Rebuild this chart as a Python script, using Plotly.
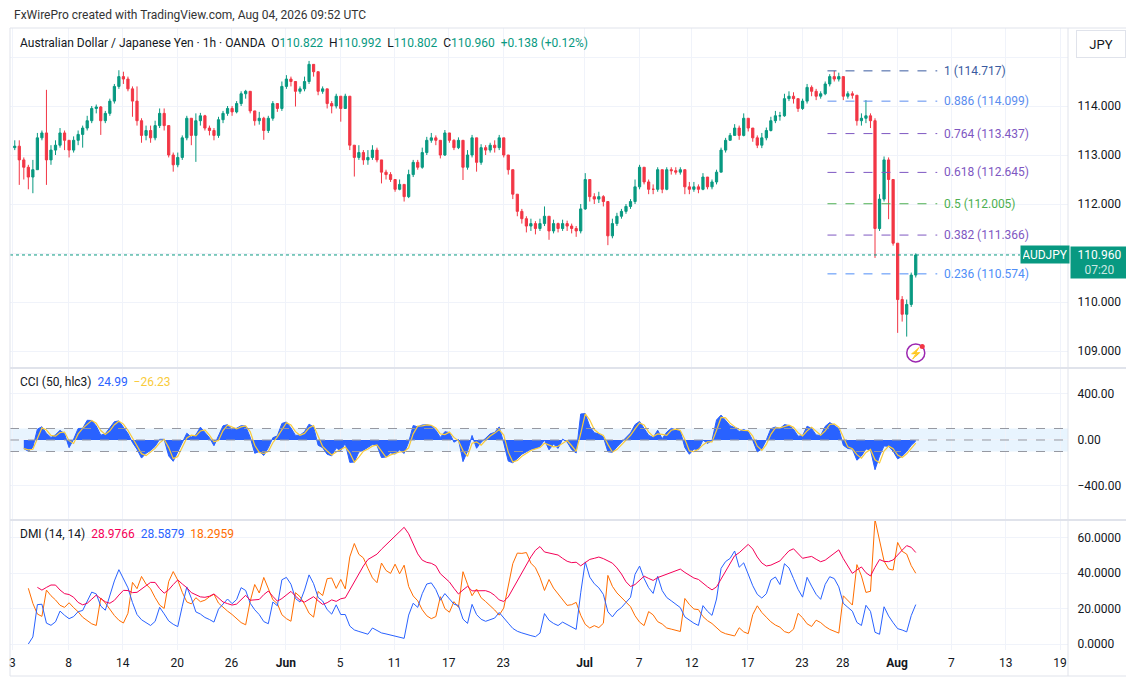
import numpy as np
import pandas as pd
import plotly.graph_objects as go
from plotly.subplots import make_subplots

# AUDJPY 1h chart, read off by eye and kept as 8h bars
# (forex session opens Sun 21:00 UTC, first bar Sun 3 May 21:00)
START = "2026-05-03 21:00"
BAR_HOURS = 8
first_open = 113.15

close = [
    113.18, 112.90, 112.75, 112.55, 112.70, 113.35, 113.45, 112.90, 113.10, 113.20,
    113.45, 113.30, 113.10, 113.30, 113.42, 113.55, 113.70, 113.95, 113.98, 113.70,
    113.85, 114.10, 114.40, 114.60, 114.55, 114.35, 114.10, 113.70, 113.40, 113.50,
    113.35, 113.60, 113.85, 113.60, 113.00, 112.80, 112.95, 113.35, 113.75, 113.40,
    113.70, 113.80, 113.55, 113.50, 113.40, 113.72, 113.85, 113.95, 113.88, 114.05,
    114.25, 114.30, 113.90, 113.70, 113.75, 113.50, 113.75, 114.05, 113.95, 114.40,
    114.55, 114.50, 114.30, 114.35, 114.50, 114.85, 114.70, 114.30, 114.35, 114.05,
    114.00, 114.20, 113.95, 114.20, 113.20, 112.95, 113.05, 112.90, 112.95, 113.10,
    112.90, 112.65, 112.60, 112.50, 112.30, 112.40, 112.15, 112.60, 112.85, 112.75,
    113.05, 113.30, 113.35, 113.30, 113.00, 113.45, 113.30, 113.15, 113.30, 112.75,
    113.00, 113.35, 112.85, 113.15, 113.10, 113.20, 113.15, 113.35, 113.00, 112.70,
    112.20, 111.85, 111.70, 111.55, 111.60, 111.50, 111.60, 111.75, 111.45, 111.60,
    111.50, 111.60, 111.55, 111.50, 111.45, 111.90, 112.50, 112.15, 112.10, 112.15,
    112.05, 111.35, 111.60, 111.75, 111.85, 111.95, 112.05, 112.35, 112.75, 112.45,
    112.30, 112.30, 112.70, 112.30, 112.70, 112.68, 112.65, 112.70, 112.35, 112.30,
    112.35, 112.30, 112.55, 112.35, 112.45, 112.65, 113.10, 113.30, 113.40, 113.55,
    113.40, 113.75, 113.55, 113.35, 113.20, 113.35, 113.50, 113.70, 113.80, 113.80,
    114.15, 114.20, 114.15, 113.95, 114.10, 114.38, 114.30, 114.20, 114.25, 114.45,
    114.60, 114.55, 114.60, 114.20, 114.25, 114.22, 113.70, 113.75, 113.80, 113.70,
    111.50, 112.10, 112.90, 112.50, 111.20, 110.05, 109.75, 109.95, 110.55, 110.96,
]
high = [
    113.30, 113.30, 112.95, 112.80, 112.90, 113.45, 113.50, 114.33, 113.20, 113.30,
    113.55, 113.50, 113.30, 113.38, 113.50, 113.60, 113.80, 114.00, 114.03, 114.00,
    113.90, 114.15, 114.45, 114.73, 114.70, 114.60, 114.40, 114.40, 113.75, 113.60,
    113.60, 113.70, 113.95, 113.95, 113.60, 113.05, 113.05, 113.40, 113.80, 113.75,
    113.85, 113.86, 113.82, 113.60, 113.55, 113.78, 113.90, 114.00, 114.00, 114.10,
    114.30, 114.33, 114.30, 113.90, 113.88, 113.78, 113.80, 114.10, 114.05, 114.50,
    114.63, 114.60, 114.50, 114.40, 114.60, 114.92, 114.85, 114.70, 114.40, 114.35,
    114.10, 114.25, 114.20, 114.25, 114.20, 113.20, 113.20, 113.10, 113.10, 113.20,
    113.15, 112.90, 112.70, 112.65, 112.50, 112.50, 112.40, 112.70, 112.90, 112.90,
    113.15, 113.37, 113.45, 113.40, 113.30, 113.51, 113.45, 113.32, 113.36, 113.30,
    113.10, 113.41, 113.35, 113.22, 113.20, 113.25, 113.30, 113.41, 113.35, 113.00,
    112.70, 112.20, 111.90, 111.75, 111.70, 111.65, 111.70, 111.95, 111.75, 111.68,
    111.62, 111.68, 111.66, 111.60, 111.55, 112.00, 112.63, 112.50, 112.22, 112.25,
    112.18, 112.05, 111.70, 111.82, 111.90, 112.00, 112.10, 112.50, 112.80, 112.75,
    112.50, 112.40, 112.75, 112.70, 112.75, 112.75, 112.75, 112.75, 112.70, 112.45,
    112.45, 112.40, 112.63, 112.55, 112.50, 112.70, 113.15, 113.35, 113.45, 113.63,
    113.60, 113.85, 113.75, 113.55, 113.40, 113.45, 113.56, 113.78, 113.90, 113.88,
    114.25, 114.30, 114.28, 114.15, 114.15, 114.45, 114.42, 114.35, 114.30, 114.50,
    114.65, 114.717, 114.68, 114.60, 114.30, 114.30, 114.22, 113.85, 114.12, 113.85,
    113.75, 112.20, 112.97, 112.95, 112.12, 111.20, 110.12, 110.05, 110.60, 110.992,
]
low = [
    113.10, 112.39, 112.50, 112.30, 112.22, 112.70, 113.30, 112.39, 112.80, 113.00,
    113.15, 113.10, 112.95, 113.05, 113.20, 113.15, 113.50, 113.65, 113.85, 113.41,
    113.65, 113.80, 114.05, 114.35, 114.45, 114.30, 113.78, 113.60, 113.25, 113.30,
    113.25, 113.30, 113.55, 113.50, 112.95, 112.66, 112.75, 112.90, 113.30, 113.20,
    112.86, 113.60, 113.50, 113.40, 113.30, 113.35, 113.65, 113.80, 113.80, 113.85,
    114.00, 114.15, 113.85, 113.60, 113.62, 113.31, 113.45, 113.70, 113.88, 113.90,
    114.35, 114.40, 113.99, 114.25, 114.30, 114.45, 114.60, 114.22, 114.25, 113.95,
    113.85, 113.95, 113.68, 113.95, 113.10, 112.56, 112.90, 112.80, 112.80, 112.90,
    112.85, 112.42, 112.50, 112.45, 112.25, 112.28, 112.05, 112.12, 112.55, 112.70,
    112.72, 113.00, 113.25, 113.20, 112.93, 112.98, 113.25, 113.10, 113.12, 112.49,
    112.70, 112.95, 112.66, 112.80, 113.00, 113.05, 113.05, 113.10, 112.95, 112.60,
    112.10, 111.75, 111.60, 111.42, 111.45, 111.38, 111.45, 111.55, 111.27, 111.40,
    111.42, 111.45, 111.45, 111.40, 111.33, 111.40, 111.88, 112.05, 112.00, 112.02,
    111.95, 111.16, 111.30, 111.55, 111.70, 111.80, 111.90, 112.00, 112.30, 112.40,
    112.20, 112.20, 112.25, 112.22, 112.28, 112.60, 112.60, 112.60, 112.20, 112.20,
    112.25, 112.22, 112.28, 112.30, 112.30, 112.40, 112.65, 113.05, 113.30, 113.40,
    113.31, 113.38, 113.48, 113.27, 113.14, 113.14, 113.30, 113.48, 113.65, 113.70,
    113.78, 114.10, 114.05, 113.88, 113.92, 114.05, 114.20, 114.12, 114.15, 114.22,
    114.40, 114.50, 114.50, 114.12, 114.15, 114.15, 113.60, 113.60, 113.65, 113.55,
    110.90, 111.45, 112.05, 111.69, 111.15, 109.37, 109.60, 109.294, 109.90, 110.50,
]

# fibonacci retracement drawn on the chart
fib_ratios = ["1", "0.886", "0.764", "0.618", "0.5", "0.382", "0.236"]
fib_prices = [114.717, 114.099, 113.437, 112.645, 112.005, 111.366, 110.574]
fib_colors = ["#3a5ba0", "#5b8def", "#7e57c2", "#7e57c2", "#4caf50", "#7e57c2", "#4f8ef7"]
fib_start = "2026-07-26 21:00"
fib_end = "2026-08-05 23:00"

tick_dates = ["2026-05-03", "2026-05-08", "2026-05-14", "2026-05-20", "2026-05-26",
              "2026-06-01", "2026-06-05", "2026-06-11", "2026-06-17", "2026-06-23",
              "2026-07-01", "2026-07-07", "2026-07-12", "2026-07-17", "2026-07-23",
              "2026-07-28", "2026-08-03", "2026-08-07", "2026-08-13", "2026-08-19"]
tick_labels = ["3", "8", "14", "20", "26", "<b>Jun</b>", "5", "11", "17", "23",
               "<b>Jul</b>", "7", "12", "17", "23", "28", "<b>Aug</b>", "7", "13", "19"]
view_start = -4.4                # a few hours before the first bar
view_end = "2026-08-19 14:00"

last_price = 110.960
cci_len, cci_ma_len = 8, 2       # CCI(50) / MA(14) on 1h, scaled to 8h bars
di_len, adx_len = 6, 9           # DMI(14, 14) on 1h, scaled to 8h bars

UP, DOWN = "#089981", "#F23645"
TXT, GRID, BORDER = "#131722", "#f0f3fa", "#e0e3eb"
FONT = "Roboto"

# the page body has an 8px margin, so screen coords are shifted by OFF
W, H, OFF = 1134, 684, 8
ML, MR, MT, MB = 2, 74, 20, 42      # plot area on screen: x 10..1068, y 28..650


def px(xs):
    return (xs - OFF - ML) / (W - ML - MR)


def py(ys):
    return (H - MB - (ys - OFF)) / (H - MT - MB)


def trade_hours(ts):
    hrs = pd.date_range(START, pd.Timestamp(ts), freq="h", inclusive="left")
    shut = (((hrs.dayofweek == 4) & (hrs.hour >= 21)) | (hrs.dayofweek == 5)
            | ((hrs.dayofweek == 6) & (hrs.hour < 21)))
    return int((~shut).sum())


df = pd.DataFrame({"close": close, "high": high, "low": low})
df["open"] = df["close"].shift(1).fillna(first_open)
df["high"] = df[["high", "open", "close"]].max(axis=1)
df["low"] = df[["low", "open", "close"]].min(axis=1)
df["x"] = np.arange(len(df)) * BAR_HOURS + BAR_HOURS / 2

# CCI on hlc3
tp = (df["high"] + df["low"] + df["close"]) / 3
sma = tp.rolling(cci_len, min_periods=3).mean()
mdev = tp.rolling(cci_len, min_periods=3).apply(lambda v: np.mean(np.abs(v - v.mean())), raw=True)
cci = (tp - sma) / (0.015 * mdev)
cci_ma = cci.rolling(cci_ma_len, min_periods=1).mean()

# DMI
up_move = df["high"].diff()
down_move = -df["low"].diff()
plus_dm = np.where((up_move > down_move) & (up_move > 0), up_move, 0.0)
minus_dm = np.where((down_move > up_move) & (down_move > 0), down_move, 0.0)
prev_close = df["close"].shift(1)
tr = pd.concat([df["high"] - df["low"], (df["high"] - prev_close).abs(),
                (df["low"] - prev_close).abs()], axis=1).max(axis=1)


def rma(s, n):
    return pd.Series(s).ewm(alpha=1 / n, adjust=False).mean()


atr = rma(tr, di_len)
plus_di = 100 * rma(plus_dm, di_len) / atr
minus_di = 100 * rma(minus_dm, di_len) / atr
dx = 100 * (plus_di - minus_di).abs() / (plus_di + minus_di)
adx = rma(dx.fillna(0), adx_len)
idx = np.arange(len(df))
plus_di[idx < 3] = np.nan
minus_di[idx < 3] = np.nan
adx[idx < 5] = np.nan

tickvals = [trade_hours(d) for d in tick_dates]
x_end = trade_hours(view_end)

fig = make_subplots(rows=3, cols=1, shared_xaxes=True, vertical_spacing=0)

fig.add_trace(go.Candlestick(
    x=df["x"], open=df["open"], high=df["high"], low=df["low"], close=df["close"],
    increasing=dict(line=dict(color=UP, width=1), fillcolor=UP),
    decreasing=dict(line=dict(color=DOWN, width=1), fillcolor=DOWN),
    whiskerwidth=0, showlegend=False, hoverinfo="skip"), row=1, col=1)

# fib levels
fx0, fx1 = trade_hours(fib_start), trade_hours(fib_end)
for r, p, c in zip(fib_ratios, fib_prices, fib_colors):
    fig.add_trace(go.Scatter(x=[fx0, fx1], y=[p, p], mode="lines",
                             line=dict(color=c, width=1, dash="dash"),
                             showlegend=False, hoverinfo="skip"), row=1, col=1)
    fig.add_annotation(x=fx1, y=p, xref="x", yref="y", text=f"{r} ({p:.3f})",
                       showarrow=False, xanchor="left", yanchor="middle", xshift=5,
                       font=dict(family=FONT, size=12, color=c))

# CCI
fig.add_trace(go.Scatter(x=df["x"], y=cci, mode="lines", fill="tozeroy",
                         fillcolor="#2962FF", line=dict(color="#2962FF", width=1),
                         showlegend=False, hoverinfo="skip"), row=2, col=1)
fig.add_trace(go.Scatter(x=df["x"], y=cci_ma, mode="lines",
                         line=dict(color="#F9CB3A", width=1.2),
                         showlegend=False, hoverinfo="skip"), row=2, col=1)

# DMI
for s, c in [(minus_di, "#FF6D00"), (plus_di, "#2962FF"), (adx, "#F50057")]:
    fig.add_trace(go.Scatter(x=df["x"], y=s, mode="lines", line=dict(color=c, width=1),
                             showlegend=False, hoverinfo="skip"), row=3, col=1)

# CCI band
fig.add_shape(type="rect", xref="paper", yref="y2", x0=0, x1=1, y0=-100, y1=100,
              fillcolor="rgba(33,150,243,0.1)", line=dict(width=0), layer="below")
for lvl in [100, 0, -100]:
    fig.add_shape(type="line", xref="paper", yref="y2", x0=0, x1=1, y0=lvl, y1=lvl,
                  line=dict(color="#9598a1", width=1, dash="dash"))

# last price line and labels
fig.add_shape(type="line", xref="paper", yref="y", x0=0, x1=px(1020), y0=last_price,
              y1=last_price, line=dict(color=UP, width=1, dash="dot"))
fig.add_annotation(x=px(1020), y=last_price, xref="paper", yref="y", text="AUDJPY",
                   showarrow=False, xanchor="left", yanchor="middle", bgcolor=UP,
                   width=44, height=13, borderpad=2,
                   font=dict(family=FONT, size=12, color="white"))
fig.add_annotation(x=px(1070), y=last_price, xref="paper", yref="y",
                   text="110.960<br><span style='color:rgba(255,255,255,0.8)'>07:20</span>",
                   showarrow=False, xanchor="left", yanchor="top", yshift=9, align="center",
                   width=53, height=27, bgcolor=UP, borderpad=2,
                   font=dict(family=FONT, size=12, color="white"))

# lightning badge under the last bar
bx, by = df["x"].iloc[-1], 108.96
fig.add_shape(type="circle", xref="x", yref="y", xsizemode="pixel", ysizemode="pixel",
              xanchor=bx, yanchor=by, x0=-9, x1=9, y0=-9, y1=9,
              line=dict(color="#9c27b0", width=1.5), fillcolor="white")
fig.add_shape(type="circle", xref="x", yref="y", xsizemode="pixel", ysizemode="pixel",
              xanchor=bx, yanchor=by, x0=4, x1=9, y0=4, y1=9,
              line=dict(color="#f23645", width=0), fillcolor="#f23645")
fig.add_annotation(x=bx, y=by, xref="x", yref="y", text="⚡", showarrow=False,
                   yanchor="middle", font=dict(size=11, color="#9c27b0"))

# frame and pane separators
fig.add_shape(type="rect", xref="paper", yref="paper", x0=px(10), x1=px(1128),
              y0=py(676), y1=py(28), line=dict(color=BORDER, width=1))
for ys in [368, 520]:
    fig.add_shape(type="line", xref="paper", yref="paper", x0=px(10), x1=px(1128),
                  y0=py(ys), y1=py(ys), line=dict(color=BORDER, width=2))
fig.add_shape(type="line", xref="paper", yref="paper", x0=1, x1=1, y0=py(676), y1=1,
              line=dict(color=BORDER, width=1))

# texts
fig.add_annotation(x=px(12), y=py(15), xref="paper", yref="paper", showarrow=False,
                   xanchor="left", yanchor="middle",
                   text="FxWirePro created with TradingView.com, Aug 04, 2026 09:52 UTC",
                   font=dict(family=FONT, size=12, color="#333333"))
sp = "\u00a0"


def val(v, c=UP):
    return f"<span style='color:{c}'>{v}</span>"


fig.add_annotation(x=px(18), y=py(43), xref="paper", yref="paper", showarrow=False,
                   xanchor="left", yanchor="middle",
                   text=("Australian Dollar / Japanese Yen · 1h · OANDA" + sp * 2 + "O" + val("110.822")
                         + sp * 2 + "H" + val("110.992") + sp * 2 + "L" + val("110.802")
                         + sp * 2 + "C" + val("110.960") + sp * 2 + val("+0.138 (+0.12%)")),
                   font=dict(family=FONT, size=12, color=TXT))
fig.add_annotation(x=px(18), y=py(382), xref="paper", yref="paper", showarrow=False,
                   xanchor="left", yanchor="middle",
                   text="CCI (50, hlc3)" + sp * 2 + val("24.99", "#2962FF") + sp * 2 + val("−26.23", "#F9CB3A"),
                   font=dict(family=FONT, size=12, color=TXT))
fig.add_annotation(x=px(18), y=py(534), xref="paper", yref="paper", showarrow=False,
                   xanchor="left", yanchor="middle",
                   text=("DMI (14, 14)" + sp * 2 + val("28.9766", "#F50057") + sp * 2
                         + val("28.5879", "#2962FF") + sp * 2 + val("18.2959", "#FF6D00")),
                   font=dict(family=FONT, size=12, color=TXT))
fig.add_annotation(x=px(1101), y=py(44), xref="paper", yref="paper", showarrow=False,
                   xanchor="center", yanchor="middle",
                   text="JPY", bgcolor="white", bordercolor=BORDER, borderwidth=1,
                   width=40, height=18, borderpad=4,
                   font=dict(family=FONT, size=13, color=TXT))

axis_font = dict(family=FONT, size=12, color=TXT)
yax = dict(side="right", showgrid=True, gridcolor=GRID, zeroline=False, showline=False,
           ticks="outside", ticklen=6, tickcolor="white", tickfont=axis_font, fixedrange=True)
fig.update_layout(
    width=W, height=H, margin=dict(l=ML, r=MR, t=MT, b=MB),
    paper_bgcolor="white", plot_bgcolor="white", showlegend=False,
    xaxis_rangeslider_visible=False,
    yaxis=dict(yax, domain=[py(368), 1], range=[108.653, 115.592],
               tickvals=[109, 110, 111, 112, 113, 114, 115],
               ticktext=["109.000", "110.000", "", "112.000", "113.000", "114.000", ""]),
    yaxis2=dict(yax, domain=[py(520), py(368)], range=[-695.7, 626],
                tickvals=[-400, 0, 400], ticktext=["−400.00", "0.00", "400.00"]),
    yaxis3=dict(yax, domain=[0, py(520)], range=[-3.39, 70.06],
                tickvals=[0, 20, 40, 60], ticktext=["0.0000", "20.0000", "40.0000", "60.0000"]),
)
for ax in ["xaxis", "xaxis2", "xaxis3"]:
    fig.layout[ax].update(range=[view_start, x_end], tickvals=tickvals, ticktext=tick_labels,
                          showgrid=True, gridcolor=GRID, zeroline=False, showline=False,
                          ticks="", tickfont=axis_font, fixedrange=True, ticklabelstandoff=4,
                          showticklabels=(ax == "xaxis3"))
fig.layout.xaxis.rangeslider.visible = False

fig.write_html("out.html")
